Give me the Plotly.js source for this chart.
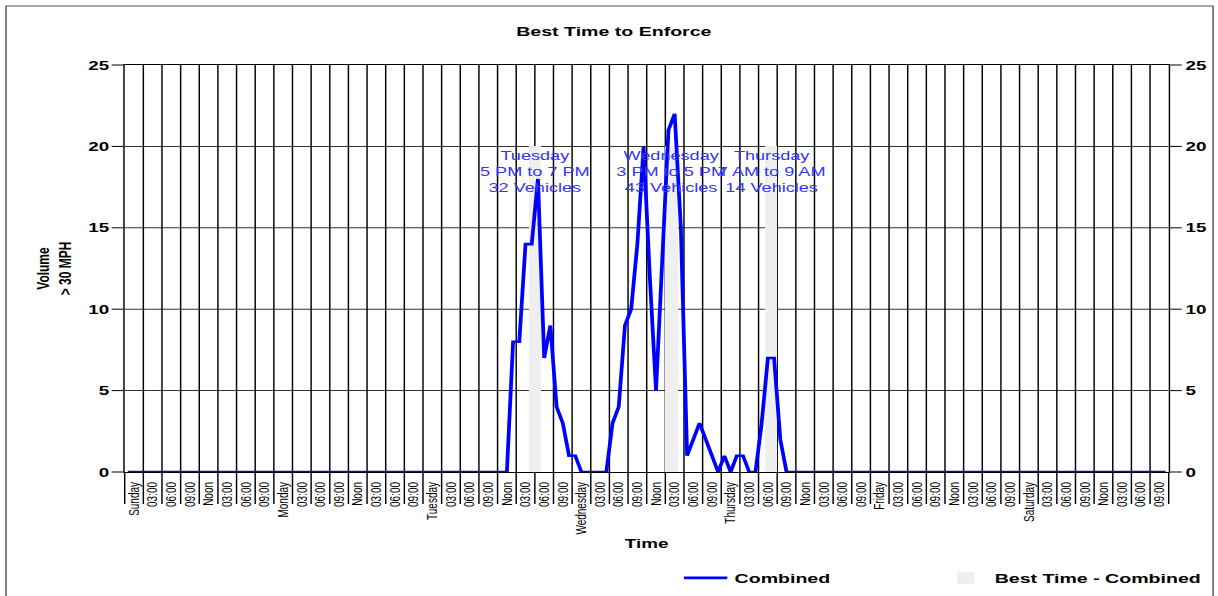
<!DOCTYPE html>
<html>
<head>
<meta charset="utf-8">
<script src="https://cdn.plot.ly/plotly-3.0.1.min.js"></script>
<style>
html, body { margin: 0; padding: 0; background: #ffffff; overflow: hidden; }
#chart { width: 840px; height: 596px; transform: scaleX(1.45); transform-origin: 0 0; }
#chart path.crisp { shape-rendering: geometricPrecision !important; }
</style>
</head>
<body>
<div id="chart"></div>
<script>
// ---- data ----
const days = ['Sunday', 'Monday', 'Tuesday', 'Wednesday', 'Thursday', 'Friday', 'Saturday'];
const slotLabels = ['03:00', '06:00', '09:00', 'Noon', '03:00', '06:00', '09:00'];

// hourly volume > 30 MPH, Sunday 00:00 .. Saturday 23:00
const volumeSunday    = [0,0,0,0,0,0,0,0,0,0,0,0,0,0,0,0,0,0,0,0,0,0,0,0];
const volumeMonday    = [0,0,0,0,0,0,0,0,0,0,0,0,0,0,0,0,0,0,0,0,0,0,0,0];
const volumeTuesday   = [0,0,0,0,0,0,0,0,0,0,0,0,0,0,8,8,14,14,18,7,9,4,3,1];
const volumeWednesday = [1,0,0,0,0,0,3,4,9,10,14,20,12,5,13,21,22,15,1,2,3,2,1,0];
const volumeThursday  = [1,0,1,1,0,0,3,7,7,2,0,0,0,0,0,0,0,0,0,0,0,0,0,0];
const volumeFriday    = [0,0,0,0,0,0,0,0,0,0,0,0,0,0,0,0,0,0,0,0,0,0,0,0];
const volumeSaturday  = [0,0,0,0,0,0,0,0,0,0,0,0,0,0,0,0,0,0,0,0,0,0,0,0];

const bestDay = ['Tuesday', 'Wednesday', 'Thursday'];
const bestRange = ['5 PM to 7 PM', '3 PM to 5 PM', '7 AM to 9 AM'];
const bestStartHour = [65, 87, 103];   // hour of week
const bestHours = [2, 2, 2];
const bestVehicles = [32, 43, 14];
const bestLevel = [20, 20, 20];

// ---- build ----
const volume = [].concat(volumeSunday, volumeMonday, volumeTuesday, volumeWednesday,
                         volumeThursday, volumeFriday, volumeSaturday);
const hourX = volume.map((v, i) => i + 0.5);

const tickText = [];
days.forEach(d => { tickText.push(d); slotLabels.forEach(s => tickText.push(s)); });
const labelPos = tickText.map((t, i) => i * 3 + 1.5);
const gridPos = [];
for (let i = 0; i <= tickText.length; i++) gridPos.push(i * 3);

const FONT = 'Arial, "Liberation Sans", sans-serif';
const LEGEND_FONT = { family: FONT, size: 13.5, weight: 'bold', color: '#000' };

const traces = [
  {
    type: 'scatter', mode: 'lines', name: 'Combined',
    x: hourX, y: volume,
    line: { color: '#0000ff', width: 2.6 },
    cliponaxis: false, hoverinfo: 'skip', legend: 'legend'
  },
  {
    type: 'bar', name: 'Best Time - Combined',
    x: bestStartHour.map((h, i) => h + bestHours[i] / 2),
    y: bestLevel,
    width: bestHours,
    marker: { color: '#efefef', line: { width: 0 } },
    hoverinfo: 'skip', legend: 'legend2'
  },
  // helpers so the secondary (grid / right-hand) axes get drawn
  { type: 'scatter', mode: 'markers', x: [0], y: [0], xaxis: 'x2', yaxis: 'y',
    marker: { opacity: 0 }, showlegend: false, hoverinfo: 'skip' },
  { type: 'scatter', mode: 'markers', x: [0], y: [0], xaxis: 'x', yaxis: 'y2',
    marker: { opacity: 0 }, showlegend: false, hoverinfo: 'skip' }
];

const annotations = bestDay.map((d, i) => ({
  xref: 'x', yref: 'y',
  x: bestStartHour[i] + bestHours[i] / 2, y: bestLevel[i],
  text: d + '<br>' + bestRange[i] + '<br>' + bestVehicles[i] + ' Vehicles',
  showarrow: false, xanchor: 'center', yanchor: 'top', yshift: -1,
  font: { family: FONT, size: 12.5, color: '#3333ff' }
}));

const layout = {
  width: 840, height: 596,
  margin: { l: 86, r: 34, t: 65, b: 124, autoexpand: false },
  paper_bgcolor: '#ffffff', plot_bgcolor: '#ffffff',
  font: { family: FONT, color: '#000000' },
  showlegend: true,
  title: {
    text: 'Best Time to Enforce', font: { family: FONT, size: 13.5, weight: 'bold', color: '#000' },
    x: 0.504, xanchor: 'center', xref: 'container',
    y: 1 - 31 / 596, yanchor: 'middle', yref: 'container'
  },
  xaxis: {
    range: [0, 168], tickmode: 'array', tickvals: labelPos, ticktext: tickText,
    tickangle: -90, ticks: 'outside', ticklen: 5, tickcolor: 'rgba(0,0,0,0)',
    showgrid: false, zeroline: false, showline: true, mirror: true, linecolor: '#000', linewidth: 1,
    tickfont: { family: FONT, size: 10, color: '#000' },
    title: { text: 'Time', font: { family: FONT, size: 13, weight: 'bold', color: '#000' }, standoff: 5 },
    fixedrange: true
  },
  xaxis2: {
    overlaying: 'x', anchor: 'y', side: 'bottom',
    range: [0, 168], tickmode: 'array', tickvals: gridPos, showticklabels: false,
    ticks: 'outside', ticklen: 31, tickcolor: '#000', tickwidth: 1,
    showgrid: true, gridcolor: '#000', gridwidth: 1, zeroline: false, showline: false,
    fixedrange: true
  },
  yaxis: {
    range: [0, 25], tickmode: 'linear', tick0: 0, dtick: 5,
    showgrid: true, gridcolor: '#333', gridwidth: 1, zeroline: false,
    showline: true, mirror: true, linecolor: '#000', linewidth: 1,
    ticks: 'outside', ticklen: 8, tickcolor: '#000', ticklabelstandoff: -1,
    tickfont: { family: FONT, size: 13, weight: 'bold', color: '#000' },
    title: { text: 'Volume<br>&gt; 30 MPH', font: { family: FONT, size: 12, weight: 'bold', color: '#000' }, standoff: 8 },
    fixedrange: true
  },
  yaxis2: {
    overlaying: 'y', anchor: 'x', side: 'right',
    range: [0, 25], tickmode: 'linear', tick0: 0, dtick: 5,
    showgrid: false, zeroline: false, showline: false,
    ticks: 'outside', ticklen: 8, tickcolor: '#000', ticklabelstandoff: 0,
    tickfont: { family: FONT, size: 13, weight: 'bold', color: '#000' },
    fixedrange: true
  },
  legend: {
    orientation: 'h', x: 0.5555, xanchor: 'left', y: 0.056, yanchor: 'top',
    xref: 'container', yref: 'container',
    font: LEGEND_FONT, bgcolor: 'rgba(0,0,0,0)'
  },
  legend2: {
    orientation: 'h', x: 0.769, xanchor: 'left', y: 0.056, yanchor: 'top',
    xref: 'container', yref: 'container',
    font: LEGEND_FONT, bgcolor: 'rgba(0,0,0,0)'
  },
  shapes: [{
    type: 'rect', xref: 'paper', yref: 'paper',
    x0: -0.1137, x1: 1.0425, y0: -0.35, y1: 1.145,
    line: { color: '#555', width: 1 }, fillcolor: 'rgba(0,0,0,0)', layer: 'below'
  }],
  annotations: annotations,
  bargap: 0
};

Plotly.newPlot('chart', traces, layout, { staticPlot: true, displayModeBar: false });
</script>
</body>
</html>
